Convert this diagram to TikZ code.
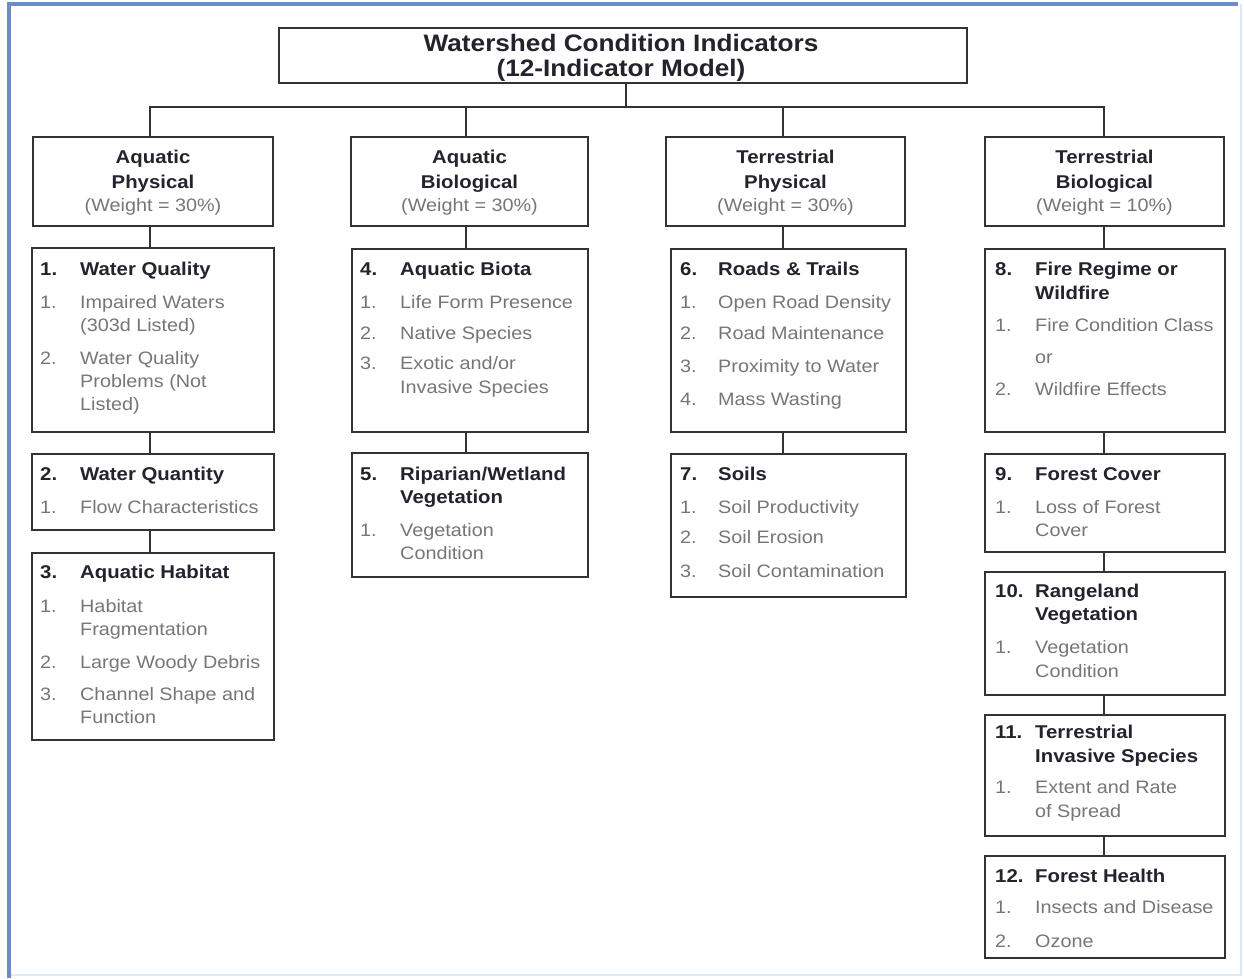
\documentclass[tikz,border=0pt]{standalone}
\usepackage{fontspec}
\setmainfont{Liberation Sans}[FakeStretch=1.1]
\definecolor{boxc}{HTML}{333333}
\definecolor{hdc}{HTML}{23232D}
\definecolor{itc}{HTML}{767676}
\definecolor{frameblue}{HTML}{6A8CCB}
\definecolor{framelight}{HTML}{DCEAF6}
\newcommand{\bx}[5]{\node[boxst,minimum width={(#4-#2)*1pt},minimum height={(#5-#3)*1pt}] (#1) at ({(#2+#4)/2},{(#3+#5)/2}) {};}
\newcommand{\hrow}[6]{\node[hd] (#1n) at (#2,#4) {#5};\node[hd] (#1t) at (#3,#4) {#6};}
\newcommand{\irow}[6]{\node[it] (#1n) at (#2,#4) {#5};\node[it] (#1t) at (#3,#4) {#6};}
\newcommand{\hcont}[4]{\node[hd] (#1) at (#2,#3) {#4};}
\newcommand{\icont}[4]{\node[it] (#1) at (#2,#3) {#4};}
\begin{document}
\begin{tikzpicture}[x=1pt,y=-1pt,
  boxst/.style={draw=boxc,line width=2pt,inner sep=0pt,fill=white},
  conn/.style={draw=boxc,line width=2pt},
  hd/.style={anchor=base west,inner sep=0pt,text=hdc,font=\fontsize{18.5}{22}\selectfont\bfseries},
  it/.style={anchor=base west,inner sep=0pt,text=itc,font=\fontsize{18}{22}\selectfont},
  cat/.style={anchor=base,inner sep=0pt,text=hdc,font=\fontsize{18.5}{22}\selectfont\bfseries},
  wt/.style={anchor=base,inner sep=0pt,text=itc,font=\fontsize{18}{22}\selectfont},
  ttl/.style={anchor=base,inner sep=0pt,text=hdc,font=\fontsize{23.8}{26}\selectfont\bfseries}]
\useasboundingbox (0,0) rectangle (1244,978);
\fill[white] (0,0) rectangle (1244,978);
% frame
\draw[framelight,line width=2pt] (1241,4) -- (1241,975) -- (9,975);
\draw[frameblue,line width=3.5pt] (9,978) -- (9,4) -- (1238,4);
% boxes
\bx{title}{279}{28}{967}{83}
\bx{c1}{33}{137}{273}{226}
\bx{c2}{351}{137}{588}{226}
\bx{c3}{666}{137}{905}{226}
\bx{c4}{985}{137}{1224}{226}
\bx{b1}{32}{248}{274}{432}
\bx{b2}{32}{454}{274}{530}
\bx{b3}{32}{553}{274}{740}
\bx{b4}{352}{249}{588}{432}
\bx{b5}{352}{453}{588}{577}
\bx{b6}{671}{249}{906}{432}
\bx{b7}{671}{454}{906}{597}
\bx{b8}{985}{249}{1225}{432}
\bx{b9}{985}{454}{1225}{552}
\bx{b10}{985}{572}{1225}{695}
\bx{b11}{985}{715}{1225}{836}
\bx{b12}{985}{856}{1225}{958}
% connector columns
\coordinate (bus) at (626,107);
\coordinate (k1) at (150,0);
\coordinate (k2) at (466,0);
\coordinate (k3) at (783,0);
\coordinate (k4) at (1104,0);
% connectors
\draw[conn] (title.south -| bus) -- (bus);
\draw[conn] (c1.north -| k1) -- (bus -| k1) -- (bus -| k4) -- (c4.north -| k4);
\draw[conn] (c2.north -| k2) -- (bus -| k2);
\draw[conn] (c3.north -| k3) -- (bus -| k3);
\draw[conn] (c1.south -| k1) -- (b1.north -| k1);
\draw[conn] (b1.south -| k1) -- (b2.north -| k1);
\draw[conn] (b2.south -| k1) -- (b3.north -| k1);
\draw[conn] (c2.south -| k2) -- (b4.north -| k2);
\draw[conn] (b4.south -| k2) -- (b5.north -| k2);
\draw[conn] (c3.south -| k3) -- (b6.north -| k3);
\draw[conn] (b6.south -| k3) -- (b7.north -| k3);
\draw[conn] (c4.south -| k4) -- (b8.north -| k4);
\draw[conn] (b8.south -| k4) -- (b9.north -| k4);
\draw[conn] (b9.south -| k4) -- (b10.north -| k4);
\draw[conn] (b10.south -| k4) -- (b11.north -| k4);
\draw[conn] (b11.south -| k4) -- (b12.north -| k4);
% title
\node[ttl] (tl1) at (621,51) {Watershed Condition Indicators};
\node[ttl] (tl2) at (621,76) {(12-Indicator Model)};
% categories
\node[cat] (c1a) at (c1.center |- 0,163) {Aquatic};
\node[cat] (c1b) at (c1.center |- 0,188) {Physical};
\node[wt] (c1c) at (c1.center |- 0,211) {(Weight = 30\%)};
\node[cat] (c2a) at (c2.center |- 0,163) {Aquatic};
\node[cat] (c2b) at (c2.center |- 0,188) {Biological};
\node[wt] (c2c) at (c2.center |- 0,211) {(Weight = 30\%)};
\node[cat] (c3a) at (c3.center |- 0,163) {Terrestrial};
\node[cat] (c3b) at (c3.center |- 0,188) {Physical};
\node[wt] (c3c) at (c3.center |- 0,211) {(Weight = 30\%)};
\node[cat] (c4a) at (c4.center |- 0,163) {Terrestrial};
\node[cat] (c4b) at (c4.center |- 0,188) {Biological};
\node[wt] (c4c) at (c4.center |- 0,211) {(Weight = 10\%)};
% column 1
\hrow{h1}{40}{80}{275}{1.}{Water Quality}
\irow{i1a}{40}{80}{308}{1.}{Impaired Waters}
\icont{i1a2}{80}{331}{(303d Listed)}
\irow{i1b}{40}{80}{364}{2.}{Water Quality}
\icont{i1b2}{80}{387}{Problems (Not}
\icont{i1b3}{80}{410}{Listed)}
\hrow{h2}{40}{80}{480}{2.}{Water Quantity}
\irow{i2a}{40}{80}{513}{1.}{Flow Characteristics}
\hrow{h3}{40}{80}{578}{3.}{Aquatic Habitat}
\irow{i3a}{40}{80}{612}{1.}{Habitat}
\icont{i3a2}{80}{635}{Fragmentation}
\irow{i3b}{40}{80}{668}{2.}{Large Woody Debris}
\irow{i3c}{40}{80}{700}{3.}{Channel Shape and}
\icont{i3c2}{80}{723}{Function}
% column 2
\hrow{h4}{360}{400}{275}{4.}{Aquatic Biota}
\irow{i4a}{360}{400}{308}{1.}{Life Form Presence}
\irow{i4b}{360}{400}{339}{2.}{Native Species}
\irow{i4c}{360}{400}{369}{3.}{Exotic and/or}
\icont{i4c2}{400}{393}{Invasive Species}
\hrow{h5}{360}{400}{480}{5.}{Riparian/Wetland}
\hcont{h5b}{400}{503}{Vegetation}
\irow{i5a}{360}{400}{536}{1.}{Vegetation}
\icont{i5a2}{400}{559}{Condition}
% column 3
\hrow{h6}{680}{718}{275}{6.}{Roads \& Trails}
\irow{i6a}{680}{718}{308}{1.}{Open Road Density}
\irow{i6b}{680}{718}{339}{2.}{Road Maintenance}
\irow{i6c}{680}{718}{372}{3.}{Proximity to Water}
\irow{i6d}{680}{718}{405}{4.}{Mass Wasting}
\hrow{h7}{680}{718}{480}{7.}{Soils}
\irow{i7a}{680}{718}{513}{1.}{Soil Productivity}
\irow{i7b}{680}{718}{543}{2.}{Soil Erosion}
\irow{i7c}{680}{718}{577}{3.}{Soil Contamination}
% column 4
\hrow{h8}{995}{1035}{275}{8.}{Fire Regime or}
\hcont{h8b}{1035}{299}{Wildfire}
\irow{i8a}{995}{1035}{331}{1.}{Fire Condition Class}
\icont{i8or}{1035}{363}{or}
\irow{i8b}{995}{1035}{395}{2.}{Wildfire Effects}
\hrow{h9}{995}{1035}{480}{9.}{Forest Cover}
\irow{i9a}{995}{1035}{513}{1.}{Loss of Forest}
\icont{i9a2}{1035}{536}{Cover}
\hrow{h10}{995}{1035}{597}{10.}{Rangeland}
\hcont{h10b}{1035}{620}{Vegetation}
\irow{i10a}{995}{1035}{653}{1.}{Vegetation}
\icont{i10a2}{1035}{677}{Condition}
\hrow{h11}{995}{1035}{738}{11.}{Terrestrial}
\hcont{h11b}{1035}{762}{Invasive Species}
\irow{i11a}{995}{1035}{793}{1.}{Extent and Rate}
\icont{i11a2}{1035}{817}{of Spread}
\hrow{h12}{995}{1035}{882}{12.}{Forest Health}
\irow{i12a}{995}{1035}{913}{1.}{Insects and Disease}
\irow{i12b}{995}{1035}{947}{2.}{Ozone}
\end{tikzpicture}
\end{document}
